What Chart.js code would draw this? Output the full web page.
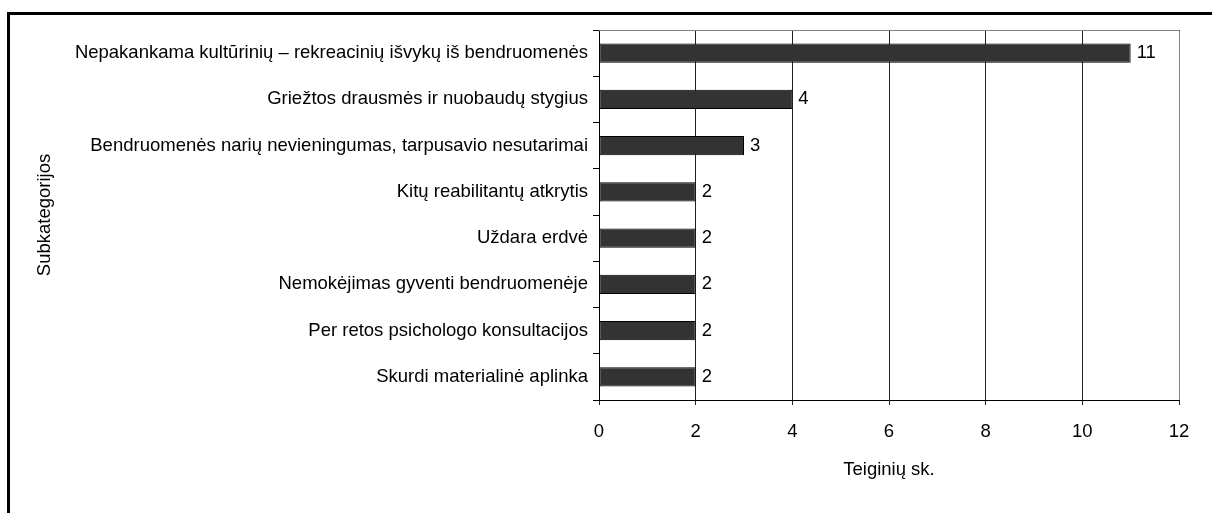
<!DOCTYPE html>
<html>
<head>
<meta charset="utf-8">
<script src="https://cdn.jsdelivr.net/npm/chart.js@4.4.0/dist/chart.umd.min.js"></script>
<style>
html,body{margin:0;padding:0;background:#fff;}
#wrap{position:relative;width:1212px;height:513px;}
</style>
</head>
<body>
<div id="wrap"><canvas id="c" width="1212" height="513"></canvas></div>
<script>
const categories = [
  "Nepakankama kultūrinių – rekreacinių išvykų iš bendruomenės",
  "Griežtos drausmės ir nuobaudų stygius",
  "Bendruomenės narių nevieningumas, tarpusavio nesutarimai",
  "Kitų reabilitantų atkrytis",
  "Uždara erdvė",
  "Nemokėjimas gyventi bendruomenėje",
  "Per retos psichologo konsultacijos",
  "Skurdi materialinė aplinka"
];
const values = [11, 4, 3, 2, 2, 2, 2, 2];
const xTicks = [0, 2, 4, 6, 8, 10, 12];
const xTitle = "Teiginių sk.";
const yTitle = "Subkategorijos";

const FONT = "'Liberation Sans', Arial, sans-serif";
const FS = 18.5;

const framePlugin = {
  id: 'frame',
  beforeDraw(chart) {
    const ctx = chart.ctx;
    ctx.save();
    ctx.fillStyle = '#fff';
    ctx.fillRect(0, 0, chart.width, chart.height);
    ctx.fillStyle = '#000';
    ctx.fillRect(7, 12, chart.width - 7, 3);
    ctx.fillRect(7, 12, 3, chart.height - 12);
    ctx.restore();
  },
  beforeDatasetsDraw(chart) {
    const a = chart.chartArea, ctx = chart.ctx;
    ctx.save();
    ctx.strokeStyle = '#808080';
    ctx.lineWidth = 1;
    ctx.beginPath();
    ctx.moveTo(a.left, a.top + 0.5);
    ctx.lineTo(a.right + 0.5, a.top + 0.5);
    ctx.lineTo(a.right + 0.5, a.bottom);
    ctx.stroke();
    ctx.restore();
  },
  afterDatasetsDraw(chart) {
    const ctx = chart.ctx;
    const meta = chart.getDatasetMeta(0);
    ctx.save();
    ctx.fillStyle = '#000';
    ctx.font = FS + 'px ' + FONT;
    ctx.textAlign = 'left';
    ctx.textBaseline = 'middle';
    meta.data.forEach((bar, i) => {
      ctx.fillText(String(values[i]), bar.x + 6, bar.y);
    });
    ctx.restore();
  }
};

new Chart(document.getElementById('c'), {
  type: 'bar',
  data: {
    labels: categories,
    datasets: [{
      data: values,
      backgroundColor: '#333333',
      borderColor: '#000000',
      borderWidth: 1,
      borderSkipped: false,
      categoryPercentage: 1,
      barPercentage: 0.42
    }]
  },
  options: {
    indexAxis: 'y',
    responsive: false,
    animation: false,
    events: [],
    layout: { padding: { left: 34, top: 30, right: 33, bottom: 32 } },
    plugins: { legend: { display: false }, tooltip: { enabled: false } },
    scales: {
      x: {
        min: 0, max: 12,
        afterBuildTicks(scale) { scale.ticks = xTicks.map(v => ({ value: v })); },
        afterFit(scale) { scale.height = 81; },
        ticks: { color: '#000', font: { family: FONT, size: FS }, padding: 16, maxRotation: 0 },
        grid: { color: '#222', lineWidth: 1, tickLength: 5, drawTicks: true },
        border: { color: '#000', width: 1 },
        title: { display: true, text: xTitle, color: '#000', font: { family: FONT, size: FS }, padding: { top: 0, bottom: 0 } }
      },
      y: {
        afterFit(scale) { scale.width = 565; },
        ticks: { color: '#000', font: { family: FONT, size: FS }, padding: 5, autoSkip: false },
        grid: { drawOnChartArea: false, color: '#000', tickLength: 6, offset: true },
        border: { color: '#000', width: 1 },
        title: { display: true, text: yTitle, color: '#000', font: { family: FONT, size: FS }, padding: { top: 0, bottom: 0 } }
      }
    }
  },
  plugins: [framePlugin]
});
</script>
</body>
</html>
